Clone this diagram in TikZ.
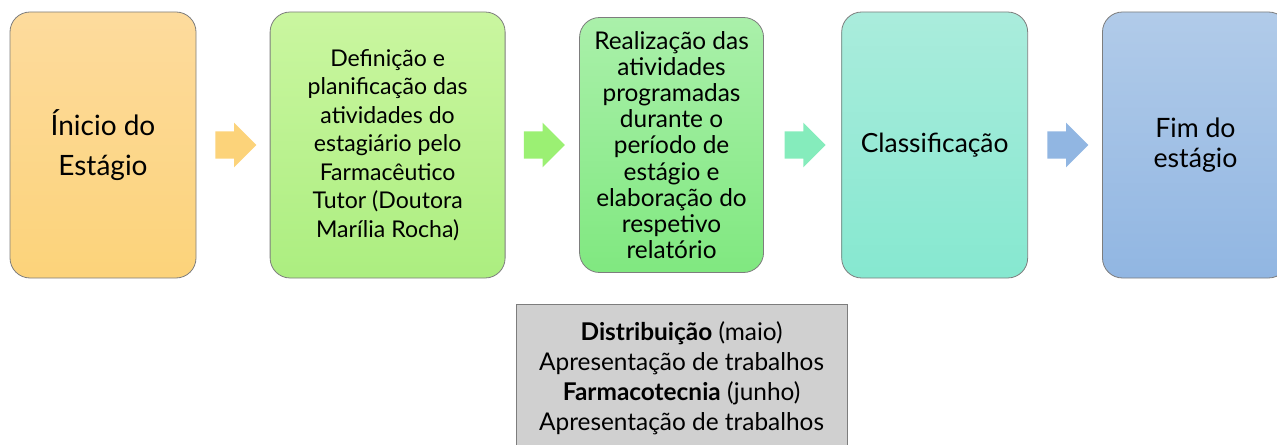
\documentclass[tikz,border=0pt]{standalone}
\usepackage{fontspec}
\setmainfont{Lato}
\usetikzlibrary{shapes.arrows, positioning}

\definecolor{startTop}{RGB}{253,219,157}
\definecolor{startBot}{RGB}{252,211,122}
\definecolor{planTop}{RGB}{202,246,160}
\definecolor{planBot}{RGB}{172,238,128}
\definecolor{workTop}{RGB}{170,240,170}
\definecolor{workBot}{RGB}{128,232,128}
\definecolor{gradeTop}{RGB}{170,236,220}
\definecolor{gradeBot}{RGB}{134,232,208}
\definecolor{gradeArrow}{RGB}{133,236,188}
\definecolor{endTop}{RGB}{177,203,233}
\definecolor{endBot}{RGB}{145,182,226}
\definecolor{rimGray}{RGB}{125,125,125}
\definecolor{noteGray}{RGB}{208,208,208}

\tikzstyle{stage} = [
  rectangle,
  rounded corners=15pt,
  minimum width=139.5pt,
  minimum height=199.5pt,
  align=center,
  draw=rimGray,
  line width=0.6pt,
  inner sep=0
]
\tikzstyle{flow} = [
  single arrow,
  draw=none,
  minimum height=30.75pt,
  single arrow head extend=6.5pt,
  inner xsep=0pt,
  inner ysep=10pt
]
\tikzstyle{note} = [
  rectangle,
  minimum width=248.25pt,
  minimum height=111pt,
  align=center,
  draw=rimGray,
  line width=0.6pt,
  fill=noteGray,
  inner sep=0
]

\begin{document}
\begin{tikzpicture}
      \useasboundingbox (0,0) rectangle (957.75pt,-333.75pt);

      \node [stage, top color=startTop, bottom color=startBot, font=\fontsize{21}{30}\selectfont] (start) at (77.25pt,-108.75pt) {Ínicio do\\ Estágio};
      \node [flow, fill=startBot, right=14pt of start] (arrow1) {};
      \node [stage, top color=planTop, bottom color=planBot, minimum width=176.25pt, right=9.75pt of arrow1, font=\fontsize{17.3}{21.4}\selectfont] (plan) {Definição e\\ planificação das\\ atividades do\\ estagiário pelo\\ Farmacêutico\\ Tutor (Doutora\\ Marília Rocha)};
      \node [flow, fill=planBot!90!green, right=13.5pt of plan] (arrow2) {};
      \node [stage, top color=workTop, bottom color=workBot, minimum width=138pt, minimum height=191.25pt, right=10.5pt of arrow2, font=\fontsize{18.3}{19.6}\selectfont] (work) {Realização das\\ atividades\\ programadas\\ durante o\\ período de\\ estágio e\\ elaboração do\\ respetivo\\ relatório};
      \node [flow, fill=gradeArrow, right=15.25pt of work] (arrow3) {};
      \node [stage, top color=gradeTop, bottom color=gradeBot, right=11.5pt of arrow3, font=\fontsize{19.8}{22.5}\selectfont] (grade) {Classificação};
      \node [flow, fill=endBot, right=14.25pt of grade] (arrow4) {};
      \node [stage, top color=endTop, bottom color=endBot, right=10pt of arrow4, font=\fontsize{20}{22.5}\selectfont] (finish) {Fim do\\ estágio};

      % trabalhos por area
      \node [note, below=23.25pt of work, xshift=7.5pt, font=\fontsize{18.3}{22.5}\selectfont] (extra) {\textbf{Distribuição} (maio)\\ Apresentação de trabalhos\\ \textbf{Farmacotecnia} (junho)\\ Apresentação de trabalhos};

    \end{tikzpicture}
\end{document}
